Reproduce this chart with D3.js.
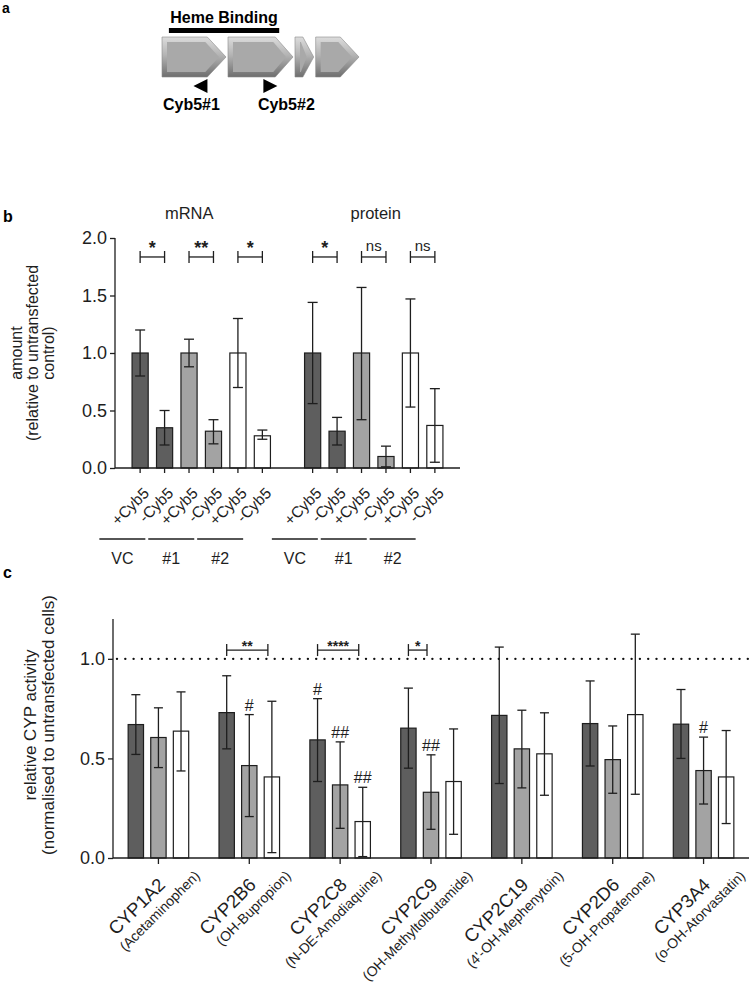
<!DOCTYPE html>
<html>
<head>
<meta charset="utf-8">
<script src="https://cdn.jsdelivr.net/npm/d3@7"></script>
<style>
  body { margin: 0; background: #fff; }
  svg { display: block; font-family: "Liberation Sans", Arial, sans-serif; }
</style>
</head>
<body>
<svg id="fig" width="749" height="986"></svg>
<script>
// ---- panel a: gene model (units = relative position along the gene)
const exonStart = [0, 33.5, 67.5, 78];
const exonEnd = [32.5, 66.5, 77, 100];
const exonTip = [9.5, 9, 5.5, 9.5];
const hemeRange = [3.5, 59.5];
const primerPos = [19.5, 55];
const primerDir = [-1, 1];
const primerNames = ['Cyb5#1', 'Cyb5#2'];

// ---- panel b: mRNA / protein
const bGroups = ['mRNA', 'protein'];
const bConditions = ['+Cyb5', '-Cyb5', '+Cyb5', '-Cyb5', '+Cyb5', '-Cyb5'];
const bConstructs = ['VC', '#1', '#2'];
const mrnaMean = [1.00, 0.35, 1.00, 0.32, 1.00, 0.28];
const mrnaLow = [0.80, 0.20, 0.88, 0.21, 0.70, 0.25];
const mrnaHigh = [1.20, 0.50, 1.12, 0.42, 1.30, 0.33];
const proteinMean = [1.00, 0.32, 1.00, 0.10, 1.00, 0.37];
const proteinLow = [0.56, 0.20, 0.42, 0.01, 0.53, 0.05];
const proteinHigh = [1.44, 0.44, 1.57, 0.19, 1.47, 0.69];
const bSignif = [['*', '**', '*'], ['*', 'ns', 'ns']];
const bTicks = [0, 0.5, 1.0, 1.5, 2.0];

// ---- panel c: CYP activity
const cypNames = ['CYP1A2', 'CYP2B6', 'CYP2C8', 'CYP2C9', 'CYP2C19', 'CYP2D6', 'CYP3A4'];
const cypSubs = ['(Acetaminophen)', '(OH-Bupropion)', '(N-DE-Amodiaquine)', '(OH-Methyltolbutamide)',
                 "(4'-OH-Mephenytoin)", '(5-OH-Propafenone)', '(o-OH-Atorvastatin)'];
const vcMean = [0.670, 0.730, 0.593, 0.652, 0.716, 0.675, 0.672];
const vcLow = [0.520, 0.548, 0.384, 0.451, 0.374, 0.462, 0.500];
const vcHigh = [0.820, 0.915, 0.800, 0.853, 1.059, 0.889, 0.846];
const kd1Mean = [0.605, 0.464, 0.367, 0.330, 0.548, 0.494, 0.439];
const kd1Low = [0.454, 0.208, 0.149, 0.144, 0.352, 0.325, 0.271];
const kd1High = [0.754, 0.720, 0.583, 0.518, 0.742, 0.663, 0.607];
const kd2Mean = [0.637, 0.407, 0.183, 0.384, 0.523, 0.720, 0.407];
const kd2Low = [0.437, 0.027, 0.007, 0.119, 0.315, 0.320, 0.173];
const kd2High = [0.834, 0.787, 0.355, 0.648, 0.729, 1.124, 0.640];
const cHashes = [[1, 1, '#'], [2, 0, '#'], [2, 1, '##'], [2, 2, '##'], [3, 1, '##'], [6, 1, '#']];
const cBrackets = [[1, 0, 2, '**'], [2, 0, 2, '****'], [3, 0, 1, '*']];
const cTicks = [0, 0.5, 1.0];

const fills = ['#5e5e5e', '#a3a3a3', '#ffffff'];
const ink = '#1e1e1e';

const svg = d3.select('#fig');

// panel letters
svg.append('text').attr('x', 2).attr('y', 13).text('a')
    .attr('font-weight', 'bold').attr('font-size', 14);
svg.append('text').attr('x', 3).attr('y', 222).text('b')
    .attr('font-weight', 'bold').attr('font-size', 16);
svg.append('text').attr('x', 3).attr('y', 578).text('c')
    .attr('font-weight', 'bold').attr('font-size', 16);

// ================= panel a =================
(function drawGene() {
    const gx = d3.scaleLinear().domain([0, 100]).range([162, 359]);
    const top = 37, bot = 77, mid = (top + bot) / 2, inset = 5;
    const g = svg.append('g');

    const defs = svg.append('defs');
    const grad = defs.append('linearGradient').attr('id', 'bevel')
        .attr('x1', 0).attr('y1', 0).attr('x2', 0).attr('y2', 1);
    grad.append('stop').attr('offset', '0%').attr('stop-color', '#dcdcdc');
    grad.append('stop').attr('offset', '45%').attr('stop-color', '#b4b4b4');
    grad.append('stop').attr('offset', '100%').attr('stop-color', '#6e6e6e');

    exonStart.forEach((s, i) => {
        const x0 = gx(s), x1 = gx(exonEnd[i]), xb = gx(exonEnd[i] - exonTip[i]);
        g.append('path')
            .attr('d', `M${x0},${top}L${xb},${top}L${x1},${mid}L${xb},${bot}L${x0},${bot}Z`)
            .attr('fill', 'url(#bevel)').attr('stroke', '#8a8a8a').attr('stroke-width', 0.6);
        const ix0 = x0 + inset, ixb = xb - inset * 0.4, ix1 = x1 - inset * 1.4;
        if (ix1 - ix0 > 4) {
            g.append('path')
                .attr('d', `M${ix0},${top + inset}L${ixb},${top + inset}L${ix1},${mid}L${ixb},${bot - inset}L${ix0},${bot - inset}Z`)
                .attr('fill', '#a9a9a9');
        }
    });

    g.append('rect')
        .attr('x', gx(hemeRange[0])).attr('y', 28)
        .attr('width', gx(hemeRange[1]) - gx(hemeRange[0])).attr('height', 5)
        .attr('fill', '#000');
    g.append('text')
        .attr('x', (gx(hemeRange[0]) + gx(hemeRange[1])) / 2).attr('y', 23)
        .attr('text-anchor', 'middle').attr('font-weight', 'bold').attr('font-size', 16)
        .text('Heme Binding');

    primerPos.forEach((p, i) => {
        const cx = gx(p), d = primerDir[i];
        g.append('path')
            .attr('d', `M${cx + d * 7},86L${cx - d * 7},79L${cx - d * 7},93Z`)
            .attr('fill', '#000');
        g.append('text')
            .attr('x', cx + (i === 0 ? -9 : 16)).attr('y', 110)
            .attr('text-anchor', 'middle').attr('font-weight', 'bold').attr('font-size', 16)
            .text(primerNames[i]);
    });
})();

// ================= panel b =================
(function drawB() {
    const left = 115, right = 460, y0 = 468, y1 = 238;
    const y = d3.scaleLinear().domain([0, 2]).range([y0, y1]);
    const gxs = d3.scaleBand().domain(bGroups).range([left, right]);
    const xi = d3.scaleBand().domain(d3.range(6)).range([-77.5, 77.5]).padding(0.34);
    const g = svg.append('g');

    const series = [
        { name: 'mRNA', mean: mrnaMean, low: mrnaLow, high: mrnaHigh },
        { name: 'protein', mean: proteinMean, low: proteinLow, high: proteinHigh }
    ];
    const bars = [];
    series.forEach(s => s.mean.forEach((m, i) => {
        const cx = gxs(s.name) + gxs.bandwidth() / 2 + xi(i) + xi.bandwidth() / 2;
        bars.push({ cx, m, lo: s.low[i], hi: s.high[i], fill: fills[Math.floor(i / 2)], i, group: s.name });
    }));

    g.selectAll('rect.bar').data(bars).join('rect')
        .attr('x', d => d.cx - xi.bandwidth() / 2).attr('width', xi.bandwidth())
        .attr('y', d => y(d.m)).attr('height', d => y(0) - y(d.m))
        .attr('fill', d => d.fill).attr('stroke', ink).attr('stroke-width', 1.2);

    const eb = g.selectAll('g.err').data(bars).join('g').attr('stroke', ink).attr('stroke-width', 1.3);
    eb.append('line').attr('x1', d => d.cx).attr('x2', d => d.cx)
        .attr('y1', d => y(d.lo)).attr('y2', d => y(d.hi));
    eb.append('line').attr('x1', d => d.cx - 5).attr('x2', d => d.cx + 5)
        .attr('y1', d => y(d.hi)).attr('y2', d => y(d.hi));
    eb.append('line').attr('x1', d => d.cx - 5).attr('x2', d => d.cx + 5)
        .attr('y1', d => y(d.lo)).attr('y2', d => y(d.lo));

    // y axis
    const ya = g.append('g').attr('transform', `translate(${left},0)`)
        .call(d3.axisLeft(y).tickValues(bTicks).tickFormat(d3.format('.1f')).tickSize(5).tickPadding(3));
    ya.select('.domain').attr('stroke', ink).attr('stroke-width', 1.3).attr('d', `M0,${y0}V${y1}`);
    ya.selectAll('.tick line').attr('stroke', ink).attr('stroke-width', 1.3);
    ya.selectAll('.tick text').attr('font-size', 18).attr('fill', ink).attr('font-family', null);

    // x axis
    g.append('line').attr('x1', left).attr('x2', right).attr('y1', y0).attr('y2', y0)
        .attr('stroke', ink).attr('stroke-width', 1.3);
    g.selectAll('line.xt').data(bars).join('line')
        .attr('x1', d => d.cx).attr('x2', d => d.cx).attr('y1', y0).attr('y2', y0 + 5)
        .attr('stroke', ink).attr('stroke-width', 1.3);
    g.selectAll('text.xl').data(bars).join('text')
        .attr('transform', d => `translate(${d.cx},${y0 + 5}) rotate(-45)`)
        .attr('x', -8).attr('y', 22)
        .attr('text-anchor', 'end').attr('font-size', 15.5).attr('fill', ink)
        .text(d => bConditions[d.i]);

    // construct underlines
    bGroups.forEach(grp => {
        bConstructs.forEach((c, k) => {
            const pair = bars.filter(b => b.group === grp && Math.floor(b.i / 2) === k);
            const cx = (pair[0].cx + pair[1].cx) / 2 - 30;
            g.append('line').attr('x1', cx - 23).attr('x2', cx + 23).attr('y1', 539).attr('y2', 539)
                .attr('stroke', ink).attr('stroke-width', 1.3);
            g.append('text').attr('x', cx).attr('y', 564).attr('text-anchor', 'middle')
                .attr('font-size', 16).attr('fill', ink).text(c);
        });
        // significance brackets
        const by = y(1.835);
        bSignif[bGroups.indexOf(grp)].forEach((s, k) => {
            const pair = bars.filter(b => b.group === grp && Math.floor(b.i / 2) === k);
            const xa = pair[0].cx, xb = pair[1].cx;
            const br = g.append('g').attr('stroke', ink).attr('stroke-width', 1.3);
            br.append('line').attr('x1', xa).attr('x2', xb).attr('y1', by).attr('y2', by);
            br.append('line').attr('x1', xa).attr('x2', xa).attr('y1', by - 6).attr('y2', by + 6);
            br.append('line').attr('x1', xb).attr('x2', xb).attr('y1', by - 6).attr('y2', by + 6);
            g.append('text').attr('x', (xa + xb) / 2).attr('y', s === 'ns' ? by - 6 : by - 3)
                .attr('text-anchor', 'middle').attr('fill', ink)
                .attr('font-size', s === 'ns' ? 15 : 18).attr('font-weight', s === 'ns' ? 'normal' : 'bold')
                .text(s);
        });
    });

    // group titles
    const titleShift = [-12, 2];
    bGroups.forEach((grp, k) => {
        g.append('text').attr('x', gxs(grp) + gxs.bandwidth() / 2 + titleShift[k]).attr('y', 219)
            .attr('text-anchor', 'middle').attr('font-size', 16.5).attr('fill', ink).text(grp);
    });

    // y label
    const yl = g.append('text').attr('transform', `translate(0,${(y0 + y1) / 2}) rotate(-90)`)
        .attr('text-anchor', 'middle').attr('font-size', 16).attr('fill', ink);
    ['amount', '(relative to untransfected', 'control)'].forEach((t, k) => {
        yl.append('tspan').attr('x', 0).attr('y', 22 + k * 16).text(t);
    });
})();

// ================= panel c =================
(function drawC() {
    const left = 113, right = 749, y0 = 858, y1 = 619;
    const y = d3.scaleLinear().domain([0, 1.2]).range([y0, y1]);
    const gx = d3.scaleBand().domain(cypNames).range([left, right]);
    const xi = d3.scaleBand().domain([0, 1, 2]).range([-37.5, 37.5]).padding(0.32);
    const g = svg.append('g');

    const series = [
        { mean: vcMean, low: vcLow, high: vcHigh },
        { mean: kd1Mean, low: kd1Low, high: kd1High },
        { mean: kd2Mean, low: kd2Low, high: kd2High }
    ];
    const cx = (gi, k) => gx(cypNames[gi]) + gx.bandwidth() / 2 + xi(k) + xi.bandwidth() / 2;
    const bars = [];
    cypNames.forEach((n, gi) => series.forEach((s, k) => {
        bars.push({ gi, k, x: cx(gi, k), m: s.mean[gi], lo: s.low[gi], hi: s.high[gi] });
    }));

    // dotted reference line
    g.append('line').attr('x1', left + 4).attr('x2', right).attr('y1', y(1)).attr('y2', y(1))
        .attr('stroke', '#111').attr('stroke-width', 2.4).attr('stroke-linecap', 'round')
        .attr('stroke-dasharray', '0,8.3');

    g.selectAll('rect.bar').data(bars).join('rect')
        .attr('x', d => d.x - xi.bandwidth() / 2).attr('width', xi.bandwidth())
        .attr('y', d => y(d.m)).attr('height', d => y(0) - y(d.m))
        .attr('fill', d => fills[d.k]).attr('stroke', ink).attr('stroke-width', 1.2);

    const eb = g.selectAll('g.err').data(bars).join('g').attr('stroke', ink).attr('stroke-width', 1.3);
    eb.append('line').attr('x1', d => d.x).attr('x2', d => d.x)
        .attr('y1', d => y(d.lo)).attr('y2', d => y(d.hi));
    eb.append('line').attr('x1', d => d.x - 4.5).attr('x2', d => d.x + 4.5)
        .attr('y1', d => y(d.hi)).attr('y2', d => y(d.hi));
    eb.append('line').attr('x1', d => d.x - 4.5).attr('x2', d => d.x + 4.5)
        .attr('y1', d => y(d.lo)).attr('y2', d => y(d.lo));

    // hashes
    cHashes.forEach(([gi, k, t]) => {
        const hi = series[k].high[gi];
        g.append('text').attr('x', cx(gi, k)).attr('y', y(hi) - 4)
            .attr('text-anchor', 'middle').attr('font-size', 16).attr('fill', ink).text(t);
    });

    // brackets
    cBrackets.forEach(([gi, a, b, t]) => {
        const xa = cx(gi, a), xb = cx(gi, b) - 4, by = y(1.044);
        const br = g.append('g').attr('stroke', ink).attr('stroke-width', 1.3);
        br.append('line').attr('x1', xa).attr('x2', xb).attr('y1', by).attr('y2', by);
        br.append('line').attr('x1', xa).attr('x2', xa).attr('y1', by - 6).attr('y2', by + 6);
        br.append('line').attr('x1', xb).attr('x2', xb).attr('y1', by - 6).attr('y2', by + 6);
        g.append('text').attr('x', (xa + xb) / 2).attr('y', by + 1)
            .attr('text-anchor', 'middle').attr('font-size', 14).attr('font-weight', 'bold')
            .attr('fill', ink).text(t);
    });

    // y axis
    const ya = g.append('g').attr('transform', `translate(${left},0)`)
        .call(d3.axisLeft(y).tickValues(cTicks).tickFormat(d3.format('.1f')).tickSize(5).tickPadding(3));
    ya.select('.domain').attr('stroke', ink).attr('stroke-width', 1.3).attr('d', `M0,${y0}V${y1}`);
    ya.selectAll('.tick line').attr('stroke', ink).attr('stroke-width', 1.3);
    ya.selectAll('.tick text').attr('font-size', 18).attr('fill', ink).attr('font-family', null);

    // x axis
    const xa = g.append('g').attr('transform', `translate(0,${y0})`)
        .call(d3.axisBottom(gx).tickSize(6).tickFormat(''));
    xa.select('.domain').attr('stroke', ink).attr('stroke-width', 1.3).attr('d', `M${left},0H${right}`);
    xa.selectAll('.tick line').attr('stroke', ink).attr('stroke-width', 1.3);

    // rotated two-line labels, both lines end-anchored near the tick
    cypNames.forEach((n, gi) => {
        const tx = gx(n) + gx.bandwidth() / 2;
        const rot = g.append('g').attr('transform', `translate(${tx},${y0 + 6}) rotate(-45)`);
        rot.append('text').attr('text-anchor', 'end').attr('font-size', 18.5).attr('fill', ink)
            .attr('x', -10).attr('y', 21).text(n);
        rot.append('text').attr('text-anchor', 'end').attr('font-size', 14).attr('fill', ink)
            .attr('x', 21).attr('y', 39).text(cypSubs[gi]);
    });

    // y label
    const yl = g.append('text').attr('transform', `translate(0,725) rotate(-90)`)
        .attr('text-anchor', 'middle').attr('font-size', 17).attr('fill', ink);
    ['relative CYP activity', '(normalised to untransfected cells)'].forEach((t, k) => {
        yl.append('tspan').attr('x', 0).attr('y', 36 + k * 18).text(t);
    });
})();
</script>
</body>
</html>
